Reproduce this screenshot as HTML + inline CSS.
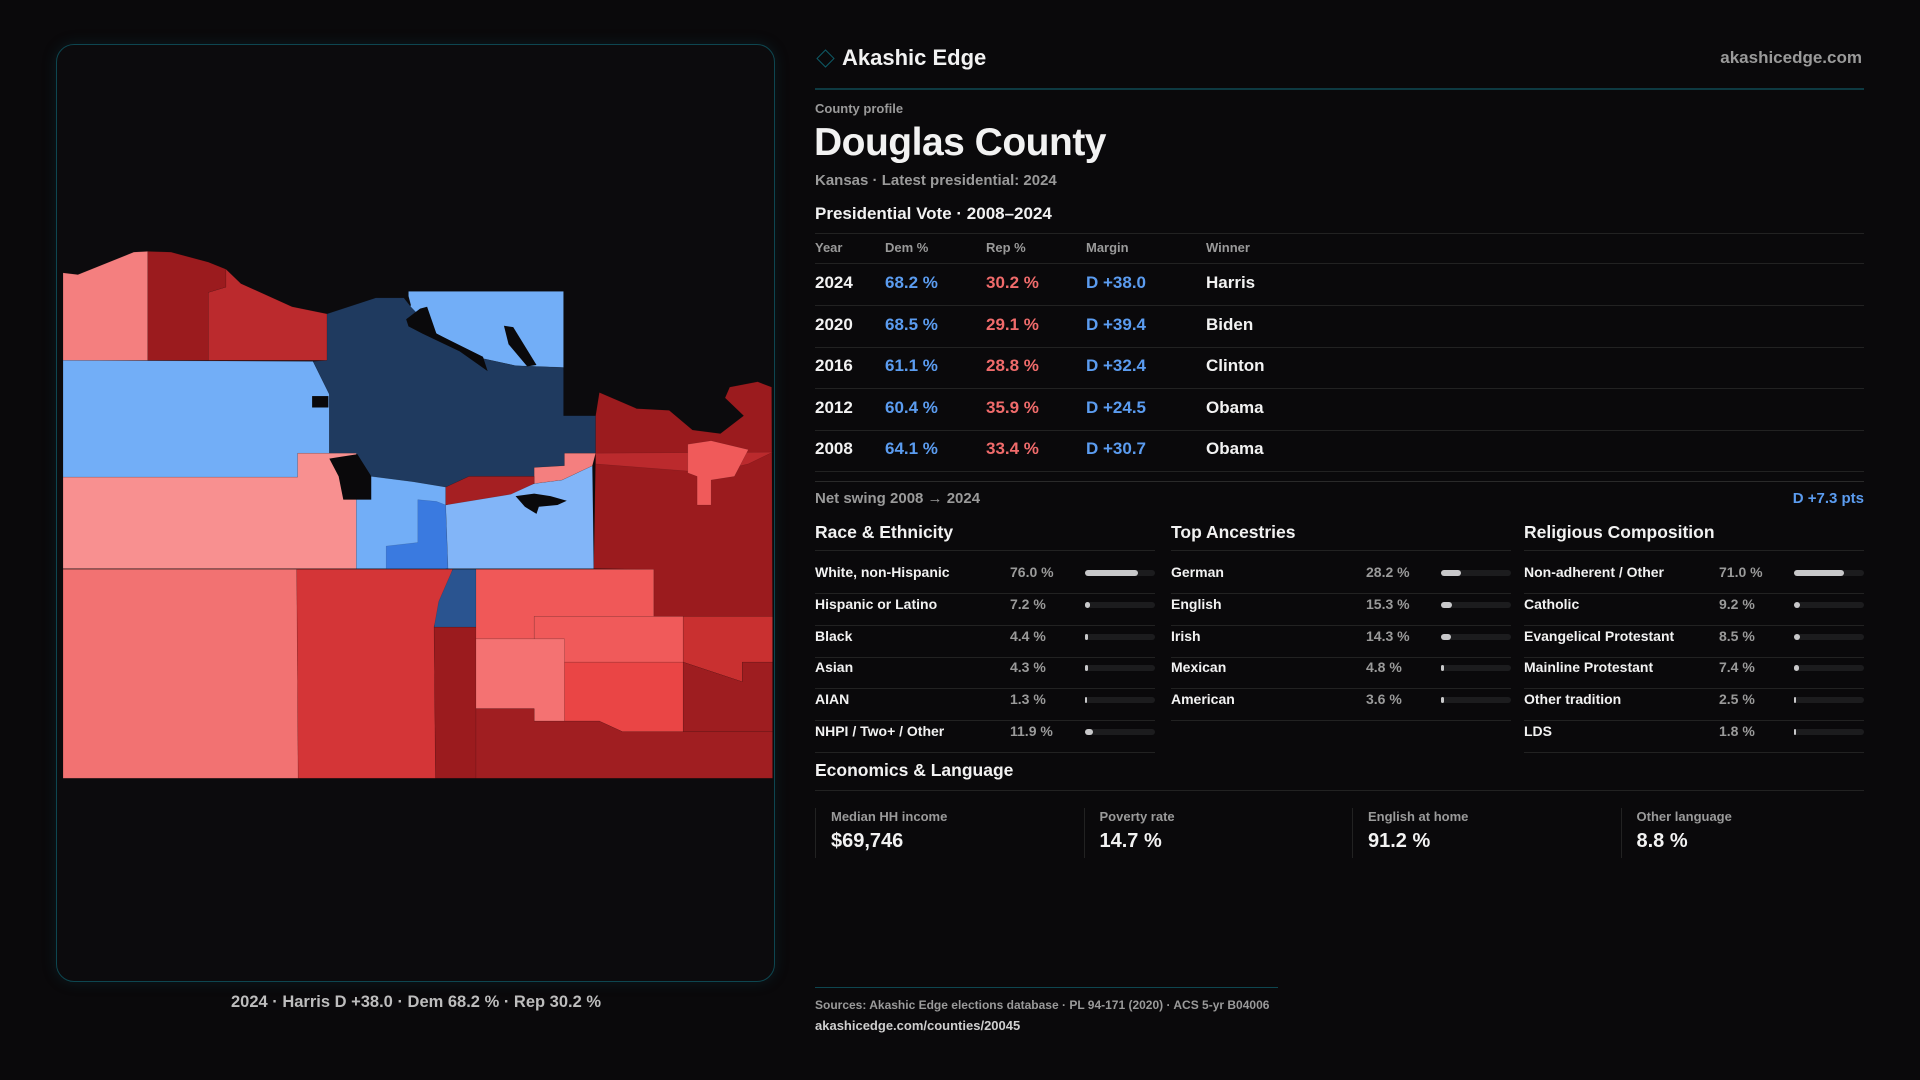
<!DOCTYPE html>
<html><head><meta charset="utf-8">
<style>
*{box-sizing:border-box;margin:0;padding:0}
body{width:1920px;height:1080px;background:#0a090b;font-family:"Liberation Sans",sans-serif;color:#f2f2f2;position:relative;overflow:hidden}
.abs{position:absolute;white-space:nowrap}
#map-panel{position:absolute;left:56px;top:44px;width:719px;height:938px;border:1.5px solid #0e4650;border-radius:18px;background:#0c0b0d;box-shadow:0 0 14px rgba(14,80,90,.25)}
.muted{color:#9a9a9a}
.blue{color:#5b9cf0}.red{color:#f06b6b}
.hr{position:absolute;left:815px;width:1049px;height:1px;background:#222}
.trow{position:absolute;left:815px;font-size:17px;font-weight:bold;white-space:nowrap;width:1000px;height:24px}
.trow span{position:absolute;top:0;white-space:nowrap}
.sec{position:absolute;font-size:17.5px;font-weight:bold;white-space:nowrap}
.lbl{font-size:14px;font-weight:bold;white-space:nowrap}
</style></head><body>
<div id="map-panel"></div>
<svg style="position:absolute;left:50px;top:230px" width="730" height="560" viewBox="0 0 1568 1568" preserveAspectRatio="none">
<g stroke="#0a090b" stroke-width="0.6" stroke-opacity="0.4">
<polygon fill="#f47f7f" points="28,120 60,125 180,62 210,60 210,365 28,365"/>
<polygon fill="#9b1b1e" points="210,60 260,62 340,90 378,110 378,160 340,175 340,365 210,365"/>
<polygon fill="#bb2a2d" points="340,175 378,160 378,110 410,150 520,215 595,235 595,365 340,365"/>
<polygon fill="#72aef7" points="28,365 565,368 600,460 600,625 532,625 532,692 28,692"/>
<polygon fill="#72aef7" points="770,172 1103,172 1103,385 1000,380 930,360 830,290 790,260 765,250 775,210 770,185"/>
<polygon fill="#1f3a5f" points="595,235 700,190 760,190 775,215 830,290 930,360 1000,380 1103,385 1103,520 1172,520 1172,625 1105,625 1105,660 1040,665 1040,690 900,690 850,720 780,705 690,690 660,628 600,625 600,460 565,368 595,365"/>
<polygon fill="#f89090" points="28,692 532,692 532,625 658,625 658,948 28,948"/>
<polygon fill="#72aef7" points="658,650 690,690 780,705 850,720 850,948 658,948"/>
<polygon fill="#3a7ae0" points="790,755 830,760 850,770 855,948 722,948 722,885 790,875"/>
<polygon fill="#82b5f8" points="850,770 1040,710 1100,700 1165,660 1168,948 855,948"/>
<polygon fill="#f47f7f" points="1040,665 1105,660 1105,625 1172,625 1165,660 1100,700 1040,710"/>
<polygon fill="#a51f22" points="850,720 900,690 1040,690 1040,710 990,740 850,770"/>
<polygon fill="#9b1b1e" points="1172,520 1180,455 1260,500 1330,505 1380,560 1440,570 1490,520 1450,470 1460,440 1520,425 1550,440 1552,1082 1297,1082 1297,950 1168,948 1172,625"/>
<polygon fill="#bb2a2d" points="1172,625 1552,622 1500,655 1420,680 1172,655"/>
<polygon fill="#f05a5a" points="1370,600 1420,590 1500,615 1470,690 1420,700 1420,770 1390,770 1390,690 1370,680"/>
<polygon fill="#f27272" points="28,950 530,950 533,1535 28,1535"/>
<polygon fill="#d43537" points="530,950 865,950 825,1110 828,1535 533,1535"/>
<polygon fill="#2a5490" points="865,950 915,950 915,1112 825,1112 835,1040"/>
<polygon fill="#9b1b1e" points="825,1112 915,1112 915,1535 828,1535"/>
<polygon fill="#f05858" points="915,950 1297,950 1297,1082 1040,1082 1040,1145 915,1145"/>
<polygon fill="#f05a5a" points="1040,1082 1360,1082 1360,1210 1105,1210 1105,1145 1040,1145"/>
<polygon fill="#c93030" points="1360,1082 1552,1082 1552,1210 1487,1210 1487,1265 1360,1210"/>
<polygon fill="#f47272" points="915,1145 1105,1145 1105,1375 1040,1375 1040,1340 915,1340"/>
<polygon fill="#ea4545" points="1105,1210 1360,1210 1360,1405 1230,1405 1180,1375 1105,1375"/>
<polygon fill="#9e1d20" points="1360,1210 1487,1265 1487,1210 1552,1210 1552,1405 1360,1405"/>
<polygon fill="#a01e21" points="915,1340 1040,1340 1040,1375 1180,1375 1230,1405 1552,1405 1552,1535 915,1535"/>
</g>
<g fill="#0a090b">
<polygon points="795,220 810,215 830,290 930,355 940,395 880,340 800,290 770,270 765,250"/>
<polygon points="975,268 995,272 1045,378 1025,382 985,320"/>
<polygon points="600,640 625,635 660,628 690,690 690,755 630,755 620,690"/>
<polygon points="1000,745 1040,738 1075,745 1110,758 1090,770 1050,775 1045,795 1020,775"/>
<rect x="563" y="465" width="35" height="32"/>
</g>
</svg>
<div class="abs" style="left:416px;top:993px;transform:translateX(-50%);font-size:16.5px;font-weight:bold;color:#bdbdbd">2024 · Harris D +38.0 · Dem 68.2 % · Rep 30.2 %</div>

<div class="abs" style="left:819px;top:52px;width:13px;height:13px;border:1.5px solid #0e5a66;transform:rotate(45deg)"></div>
<div class="abs" style="left:842px;top:45px;font-size:22px;font-weight:bold">Akashic Edge</div>
<div class="abs muted" style="right:58px;top:48px;font-size:17px;font-weight:bold">akashicedge.com</div>
<div class="hr" style="top:88px;background:#0e3a42;height:2px"></div>
<div class="abs muted" style="left:815px;top:101px;font-size:13px;font-weight:bold">County profile</div>
<div class="abs" style="left:814px;top:121px;font-size:39px;font-weight:bold;letter-spacing:-0.5px">Douglas County</div>
<div class="abs muted" style="left:815px;top:172px;font-size:15px;font-weight:bold">Kansas · Latest presidential: 2024</div>
<div class="abs" style="left:815px;top:204px;font-size:17px;font-weight:bold">Presidential Vote · 2008–2024</div>
<div class="hr" style="top:233px"></div>
<div class="trow muted" style="top:240px;font-size:13px"><span style="left:0">Year</span><span style="left:70px">Dem %</span><span style="left:171px">Rep %</span><span style="left:271px">Margin</span><span style="left:391px">Winner</span></div>
<div class="hr" style="top:263px"></div>
<div id="vote-rows"></div>
<div class="hr" style="top:481px;background:#2a2a2a"></div>
<div class="abs muted" style="left:815px;top:490px;font-size:15px;font-weight:bold">Net swing 2008 → 2024</div>
<div class="abs blue" style="right:56px;top:490px;font-size:15px;font-weight:bold">D +7.3 pts</div>
<div id="sections"></div>
<div class="sec" style="left:815px;top:760px">Economics &amp; Language</div>
<div class="hr" style="top:790px"></div>
<div id="cards"></div>
<div class="abs" style="left:815px;top:987px;width:463px;height:1px;background:#0e4650"></div>
<div class="abs muted" style="left:815px;top:998px;font-size:12px;font-weight:bold">Sources: Akashic Edge elections database · PL 94-171 (2020) · ACS 5-yr B04006</div>
<div class="abs" style="left:815px;top:1018px;font-size:13px;font-weight:bold;color:#cfcfcf">akashicedge.com/counties/20045</div>

<script>
const years=["2024","2020","2016","2012","2008"];
const demPct=[68.2,68.5,61.1,60.4,64.1];
const repPct=[30.2,29.1,28.8,35.9,33.4];
const marginPts=[38.0,39.4,32.4,24.5,30.7];
const winners=["Harris","Biden","Clinton","Obama","Obama"];
const raceLabels=["White, non-Hispanic","Hispanic or Latino","Black","Asian","AIAN","NHPI / Two+ / Other"];
const raceValues=[76.0,7.2,4.4,4.3,1.3,11.9];
const ancLabels=["German","English","Irish","Mexican","American"];
const ancValues=[28.2,15.3,14.3,4.8,3.6];
const relLabels=["Non-adherent / Other","Catholic","Evangelical Protestant","Mainline Protestant","Other tradition","LDS"];
const relValues=[71.0,9.2,8.5,7.4,2.5,1.8];
const cardLabels=["Median HH income","Poverty rate","English at home","Other language"];
const cardValues=["$69,746","14.7 %","91.2 %","8.8 %"];

const vr=document.getElementById('vote-rows');
years.forEach((y,i)=>{
  const top=273+i*41.6;
  const r=document.createElement('div');
  r.className='trow';r.style.top=top+'px';
  
  
  const m=marginPts[i];
  r.innerHTML=`<span style="left:0">${y}</span><span class="blue" style="left:70px">${demPct[i].toFixed(1)} %</span><span class="red" style="left:171px">${repPct[i].toFixed(1)} %</span><span class="blue" style="left:271px">${m>=0?'D':'R'} +${Math.abs(m).toFixed(1)}</span><span style="left:391px">${winners[i]}</span>`;
  vr.appendChild(r);
  const h=document.createElement('div');h.className='hr';h.style.top=(top+32)+'px';
  
  
  vr.appendChild(h);
});

const secs=document.getElementById('sections');
function section(x,title,labels,vals,key){
  const t=document.createElement('div');t.className='sec';t.style.left=x+'px';t.style.top='522px';t.textContent=title;
  
  
  secs.appendChild(t);
  const l=document.createElement('div');l.className='abs';l.style.cssText=`left:${x}px;top:550px;width:340px;height:1px;background:#222`;
  
  
  secs.appendChild(l);
  labels.forEach((lab,i)=>{
    const top=563+i*31.8;
    const row=document.createElement('div');row.className='abs';row.style.cssText=`left:${x}px;top:${top}px;width:340px;height:31px;border-bottom:1px solid #222`;
    
    
    row.innerHTML=`<span class="lbl" style="position:absolute;left:0;top:1px">${lab}</span><span class="lbl muted" style="position:absolute;left:195px;top:1px">${vals[i].toFixed(1)} %</span>`;
    const tr=document.createElement('div');tr.style.cssText='position:absolute;left:270px;top:7px;width:70px;height:6px;border-radius:3px;background:#1c1c1e';
    
    
    const f=document.createElement('div');f.style.cssText=`height:6px;border-radius:3px;background:#c8c8ca;width:${Math.max(2,70*vals[i]/100)}px`;
    
    
    tr.appendChild(f);row.appendChild(tr);secs.appendChild(row);
  });
}
section(815,'Race & Ethnicity',raceLabels,raceValues,'race');
section(1171,'Top Ancestries',ancLabels,ancValues,'ancestry');
section(1524,'Religious Composition',relLabels,relValues,'religion');

const cards=document.getElementById('cards');
cardLabels.forEach((lab,i)=>{
  const c=document.createElement('div');c.className='abs';
  c.style.cssText=`left:${815+i*268.5}px;top:808px;height:50px;border-left:1px solid #222;padding-left:15px`;
  
  
  c.innerHTML=`<div class="muted" style="font-size:13px;font-weight:bold;margin-top:1px">${lab}</div><div style="font-size:20px;font-weight:bold;margin-top:6px">${cardValues[i]}</div>`;
  cards.appendChild(c);
});
</script>
</body></html>
